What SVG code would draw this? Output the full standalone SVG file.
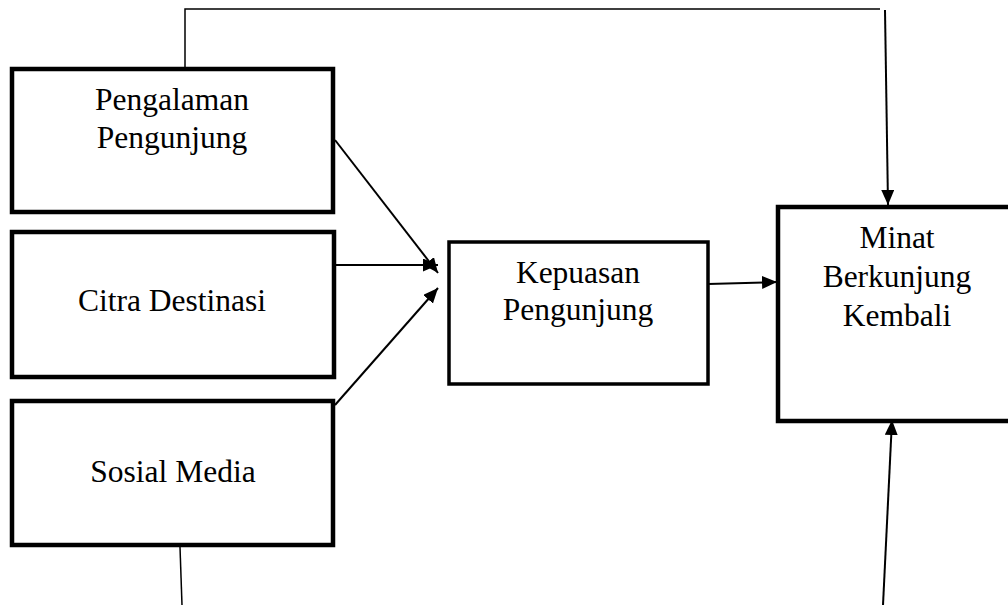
<svg xmlns="http://www.w3.org/2000/svg" width="1008" height="605" viewBox="0 0 1008 605">
  <style>
    .box { fill: #ffffff; stroke: #000000; stroke-width: 4.5; }
    .box2 { fill: #ffffff; stroke: #000000; stroke-width: 3.5; }
    .lbl { font-family: "Liberation Serif", "Times New Roman", serif; font-size: 31.5px; fill: #000000; text-anchor: middle; }
    .con { fill: none; stroke: #000000; stroke-width: 2; }
    .thin { fill: none; stroke: #000000; stroke-width: 1.5; }
  </style>
  <defs>
    <marker id="arr" markerUnits="userSpaceOnUse" markerWidth="16" markerHeight="14" refX="15" refY="6.5" orient="auto">
      <path d="M0,0 L15,6.5 L0,13 z" fill="#000000"/>
    </marker>
  </defs>
  <rect x="0" y="0" width="1008" height="605" fill="#ffffff"/>

  <g id="connectors">
    <path class="thin" d="M185,69 L185,9 L880,9"/>
    <line class="con" x1="885" y1="10" x2="888" y2="205" marker-end="url(#arr)"/>
    <line class="con" x1="335" y1="140" x2="438" y2="273" marker-end="url(#arr)"/>
    <line class="con" x1="336" y1="265" x2="438" y2="265" marker-end="url(#arr)"/>
    <line class="con" x1="335" y1="405" x2="438" y2="288" marker-end="url(#arr)"/>
    <line class="con" x1="708" y1="284" x2="777" y2="282" marker-end="url(#arr)"/>
    <line class="thin" x1="180" y1="547" x2="182" y2="605"/>
    <line class="con" x1="883" y1="605" x2="892" y2="420" marker-end="url(#arr)"/>
  </g>

  <g id="node-pengalaman">
    <rect class="box" x="12" y="69" width="321" height="143"/>
    <text class="lbl" x="172" y="110">Pengalaman</text>
    <text class="lbl" x="172" y="148">Pengunjung</text>
  </g>

  <g id="node-citra">
    <rect class="box" x="12" y="232" width="322" height="145"/>
    <text class="lbl" x="172" y="311">Citra Destinasi</text>
  </g>

  <g id="node-sosial">
    <rect class="box" x="12" y="401" width="321" height="144"/>
    <text class="lbl" x="173" y="482">Sosial Media</text>
  </g>

  <g id="node-kepuasan">
    <rect class="box2" x="449" y="242" width="259" height="142"/>
    <text class="lbl" x="578" y="283">Kepuasan</text>
    <text class="lbl" x="578" y="320">Pengunjung</text>
  </g>

  <g id="node-minat">
    <rect class="box" x="778" y="207" width="236" height="214"/>
    <text class="lbl" x="897" y="248">Minat</text>
    <text class="lbl" x="897" y="287">Berkunjung</text>
    <text class="lbl" x="897" y="326">Kembali</text>
  </g>
</svg>
